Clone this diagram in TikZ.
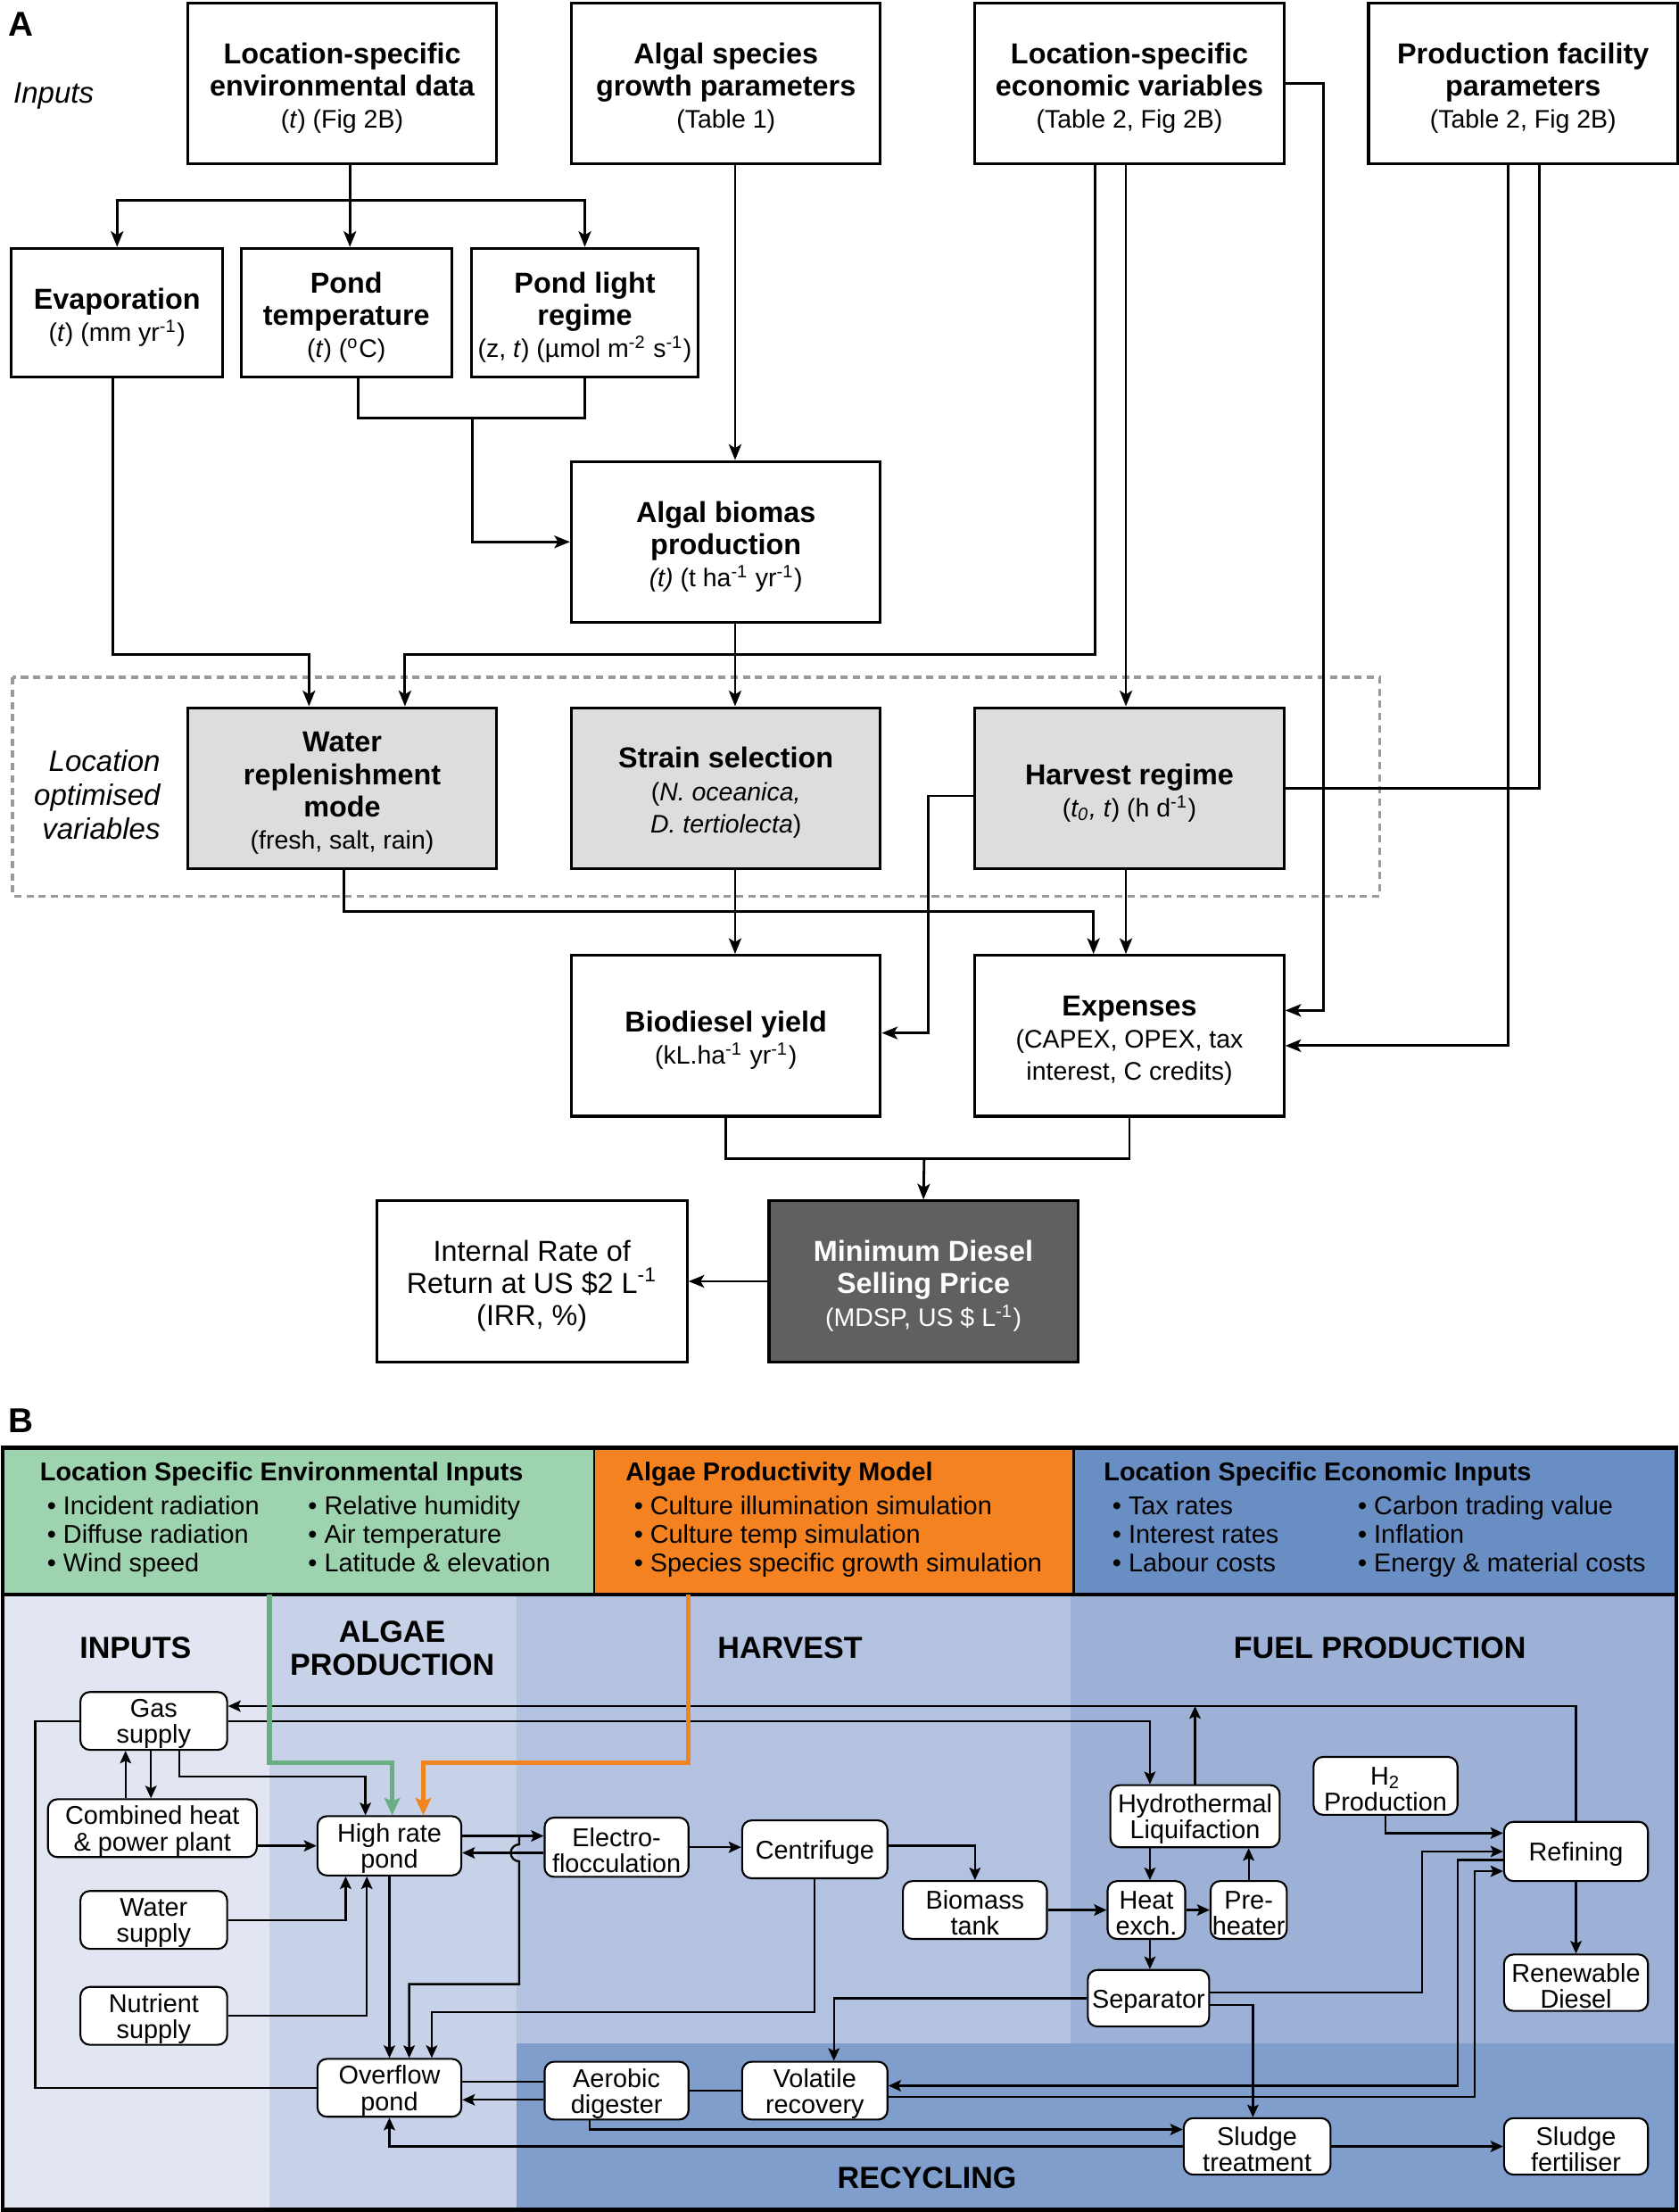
\documentclass[tikz,border=0pt]{standalone}
\usepackage{fontspec}
\setmainfont{Liberation Sans}
\usepackage{tikz}
\usetikzlibrary{arrows.meta}

\definecolor{boxgray}{HTML}{DCDDDF}
\definecolor{darkbox}{HTML}{5F6062}
\definecolor{dashgray}{HTML}{9A9A9A}
\definecolor{envgreen}{HTML}{9DD3AE}
\definecolor{modelorange}{HTML}{F58220}
\definecolor{econblue}{HTML}{688EC4}
\definecolor{zinputs}{HTML}{E1E6F2}
\definecolor{zalgae}{HTML}{C7D2E8}
\definecolor{zharvest}{HTML}{B2C2E0}
\definecolor{zfuel}{HTML}{9DB1D6}
\definecolor{zrecyc}{HTML}{809ECB}
\definecolor{feedgreen}{HTML}{6AAF84}
\definecolor{feedorange}{HTML}{F08421}

\newcommand{\pxu}{0.015815cm}
\newcommand{\boxstrut}{\rule{0pt}{9.6pt}} % 首行撑高, 文字略下移
\newcommand{\unitstrut}{\rule{0pt}{7.8pt}}
\newcommand{\hd}[1]{{\fontsize{9.2}{10.3}\selectfont\bfseries #1}}
\newcommand{\itm}{\textbullet\ }

\begin{document}
\begin{tikzpicture}[
    x=\pxu, y=-\pxu, % 以参考图像素为单位, y 向下
    abox/.style={draw, line width=0.9pt, align=center, inner sep=0pt,
        minimum width=219*\pxu, minimum height=114*\pxu,
        font=\fontsize{8.1}{10.3}\selectfont}, % A 图方框
    optbox/.style={abox, fill=boxgray}, % 位置优化变量
    aline/.style={line width=0.8pt},
    aarr/.style={aline, -{Stealth[length=5pt, width=4pt, inset=1.2pt]}},
    pbox/.style={draw, line width=0.6pt, rounded corners=3pt, fill=white,
        align=center, inner sep=0pt, minimum width=102*\pxu, minimum height=41*\pxu,
        font=\fontsize{8.2}{8.3}\selectfont}, % B 图工艺方框
    bline/.style={line width=0.65pt},
    barr/.style={bline, -{Stealth[length=4pt, width=3.6pt, inset=0.8pt]}},
    feed/.style={line width=1.5pt, -{Stealth[length=5.5pt, width=5pt, inset=1pt]}},
    zone/.style={font=\fontsize{9.7}{10.3}\selectfont\bfseries, align=center},
    band/.style={font=\fontsize{8.2}{9}\selectfont, align=left, inner sep=0pt, anchor=base west},
    bandtitle/.style={band, font=\fontsize{8.2}{9}\selectfont\bfseries},
    note/.style={font=\fontsize{9.4}{10.8}\selectfont\itshape, inner sep=0pt}
]
\useasboundingbox (0,0) rectangle (1190,1567.5);

% ---------------- A 图 ----------------
\node[font=\fontsize{11}{11}\selectfont\bfseries] (labA) at (15,17) {A};
\node[note] (inputs) at (38,68) {Inputs};

\node[abox] (env) at (242.5,59) {\boxstrut\hd{Location-specific}\\\hd{environmental data}\\(\textit{t}) (Fig 2B)};
\node[abox] (species) at (514.5,59) {\boxstrut\hd{Algal species}\\\hd{growth parameters}\\(Table 1)};
\node[abox] (econ) at (800.5,59) {\boxstrut\hd{Location-specific}\\\hd{economic variables}\\(Table 2, Fig 2B)};
\node[abox] (facility) at (1079.5,59) {\boxstrut\hd{Production facility}\\\hd{parameters}\\(Table 2, Fig 2B)};

\node[abox, minimum width=150*\pxu, minimum height=91*\pxu] (evap) at (83,221.5) {\boxstrut\hd{Evaporation}\\(\textit{t}) (mm yr\textsuperscript{-1})};
\node[abox, minimum width=149*\pxu, minimum height=91*\pxu] (ptemp) at (245.5,221.5) {\boxstrut\hd{Pond}\\\hd{temperature}\\(\textit{t}) (\textsuperscript{o}C)};
\node[abox, minimum width=161*\pxu, minimum height=91*\pxu] (plight) at (414.5,221.5) {\boxstrut\hd{Pond light}\\\hd{regime}\\(z, \textit{t}) (µmol m\textsuperscript{-2} s\textsuperscript{-1})};

\node[abox] (biomas) at (514.5,384) {\boxstrut\hd{Algal biomas}\\\hd{production}\\\textit{(t)} (t ha\textsuperscript{-1} yr\textsuperscript{-1})};

\draw[dashgray, line width=1pt, dash pattern=on 2.3pt off 1.6pt] (9,480) rectangle (978,635); % 虚线框
\node[note, align=right, anchor=east] (optlab) at (114,563) {Location\\optimised\\variables};

\node[optbox] (water) at (242.5,558.5) {\boxstrut\hd{Water}\\\hd{replenishment}\\\hd{mode}\\(fresh, salt, rain)};
\node[optbox] (strain) at (514.5,558.5) {\boxstrut\hd{Strain selection}\\(\textit{N. oceanica,}\\\textit{D. tertiolecta})};
\node[optbox] (harvest) at (800.5,558.5) {\boxstrut\hd{Harvest regime}\\(\textit{t\textsubscript{0}, t}) (h d\textsuperscript{-1})};

\node[abox] (yield) at (514.5,734) {\boxstrut\hd{Biodiesel yield}\\(kL.ha\textsuperscript{-1} yr\textsuperscript{-1})};
\node[abox] (expenses) at (800.5,734) {\boxstrut\hd{Expenses}\\(CAPEX, OPEX, tax\\interest, C credits)};
\node[abox, fill=darkbox, text=white] (mdsp) at (654.5,908) {\boxstrut\hd{Minimum Diesel}\\\hd{Selling Price}\\(MDSP, US \$ L\textsuperscript{-1})};
\node[abox, minimum width=220*\pxu, font=\fontsize{9.2}{10.3}\selectfont] (irr) at (377,908) {\boxstrut Internal Rate of\\Return at US \$2 L\textsuperscript{-1}\\(IRR, \%)};

% 连线用的拐点
\coordinate (lc) at (521,0);
\coordinate (split) at (248,142);
\coordinate (pt) at (254,0);
\coordinate (join) at (335,296);
\coordinate (ev) at (80,464);
\coordinate (wa) at (219,0);
\coordinate (e1) at (776,464);
\coordinate (wb) at (287,0);
\coordinate (e2) at (798,0);
\coordinate (ex1) at (938,716);
\coordinate (ex2) at (1069,741);
\coordinate (f2) at (1091,0);
\coordinate (wm) at (244,646);
\coordinate (xm) at (775,0);
\coordinate (hv1) at (658,564);
\coordinate (hv2) at (658,732);
\coordinate (mj) at (655,821);

\draw[aline] (env.south -| split) -- (split);
\draw[aarr] (split) -| (evap.north);
\draw[aarr] (split) -- (split |- ptemp.north);
\draw[aarr] (split) -| (plight.north);
\draw[aline] (ptemp.south -| pt) |- (plight.south |- join) -- (plight.south);
\draw[aarr] (join) |- (biomas.west);
\draw[aarr] (species.south -| lc) -- (biomas.north -| lc);
\draw[aarr] (evap.south -| ev) -- (ev) -| (water.north -| wa);
\draw[aarr] (econ.south -| e1) -- (e1) -| (water.north -| wb);
\draw[aarr] (econ.south -| e2) -- (harvest.north -| e2);
\draw[aarr] (econ.east) -| (ex1) -- (expenses.east |- ex1);
\draw[aarr] (facility.south -| ex2) -- (ex2) -- (expenses.east |- ex2);
\draw[aline] (facility.south -| f2) |- (harvest.east);
\draw[aarr] (biomas.south -| lc) -- (strain.north -| lc);
\draw[aarr] (strain.south -| lc) -- (yield.north -| lc);
\draw[aarr] (water.south -| wm) -- (wm) -| (expenses.north -| xm);
\draw[aarr] (harvest.south -| e2) -- (expenses.north -| e2);
\draw[aarr] (harvest.west |- hv1) -- (hv1) -- (hv2) -- (yield.east |- hv2);
\draw[aline] (yield.south) |- (mj) -| (expenses.south);
\draw[aarr] (mj) -- (mdsp.north);
\draw[aarr] (mdsp.west) -- (irr.east);

% ---------------- B 图 ----------------
\node[font=\fontsize{11}{11}\selectfont\bfseries] (labB) at (15,1007) {B};

% 背景色块
\foreach \c/\p/\q in {zinputs/{2,1130}/{191,1566}, zalgae/{191,1130}/{366,1566},
    zharvest/{366,1130}/{759,1448}, zfuel/{759,1130}/{1188,1448},
    zrecyc/{366,1448}/{1188,1566}, envgreen/{2,1026}/{421,1130},
    modelorange/{421,1026}/{761,1130}, econblue/{761,1026}/{1188,1130}}
    \fill[\c] (\p) rectangle (\q);
\draw[line width=0.7pt] (421,1026) -- (421,1130) (761,1026) -- (761,1130);
\draw[line width=1pt] (2,1130) -- (1188,1130);
\draw[line width=1.3pt] (2,1026) rectangle (1188,1566);

% 顶部输入说明 (列表以末行基线定位)
\node[bandtitle] (envtitle) at (28,1049.5) {Location Specific Environmental Inputs};
\node[band] (envlistA) at (33,1113.5) {\itm Incident radiation\\\itm Diffuse radiation\\\itm Wind speed};
\node[band] (envlistB) at (218,1113.5) {\itm Relative humidity\\\itm Air temperature\\\itm Latitude \& elevation};
\node[bandtitle] (modtitle) at (443,1049.5) {Algae Productivity Model};
\node[band] (modlist) at (449,1113.5) {\itm Culture illumination simulation\\\itm Culture temp simulation\\\itm Species specific growth simulation};
\node[bandtitle] (ecotitle) at (782,1049.5) {Location Specific Economic Inputs};
\node[band] (ecolistA) at (788,1113.5) {\itm Tax rates\\\itm Interest rates\\\itm Labour costs};
\node[band] (ecolistB) at (962,1113.5) {\itm Carbon trading value\\\itm Inflation\\\itm Energy \& material costs};

% 区域标题
\node[zone] (zin) at (96,1168) {INPUTS};
\node[zone] (zal) at (278,1168) {ALGAE\\PRODUCTION};
\node[zone] (zha) at (560,1168) {HARVEST};
\node[zone] (zfu) at (978,1168) {FUEL PRODUCTION};
\node[zone] (zre) at (657,1543) {RECYCLING};

% 工艺单元
\node[pbox, minimum width=104*\pxu] (gas) at (109,1219.5) {\unitstrut Gas\\supply};
\node[pbox, minimum width=148*\pxu] (chp) at (108,1295.5) {\unitstrut Combined heat\\\& power plant};
\node[pbox, minimum width=104*\pxu] (wsup) at (109,1360.5) {\unitstrut Water\\supply};
\node[pbox, minimum width=104*\pxu] (nsup) at (109,1428.5) {\unitstrut Nutrient\\supply};
\node[pbox, minimum height=42*\pxu] (hrp) at (276,1308) {\unitstrut High rate\\pond};
\node[pbox] (over) at (276,1479.5) {\unitstrut Overflow\\pond};
\node[pbox, minimum height=42*\pxu] (elec) at (437,1309) {\unitstrut Electro-\\flocculation};
\node[pbox, minimum width=103*\pxu] (cent) at (577.5,1310.5) {\unitstrut Centrifuge};
\node[pbox] (tank) at (691,1353.5) {\unitstrut Biomass\\tank};
\node[pbox, minimum width=120*\pxu, minimum height=44*\pxu] (htl) at (847,1287) {\unitstrut Hydrothermal\\Liquifaction};
\node[pbox, minimum width=55*\pxu] (hx) at (812.5,1353.5) {\unitstrut Heat\\exch.};
\node[pbox, minimum width=54*\pxu] (pre) at (885,1353.5) {\unitstrut Pre-\\heater};
\node[pbox, minimum width=86*\pxu, minimum height=40*\pxu] (sep) at (814,1416) {\unitstrut Separator};
\node[pbox] (h2) at (982,1265.5) {\unitstrut H\textsubscript{2}\\Production};
\node[pbox, minimum height=42*\pxu] (refin) at (1117,1312) {\unitstrut Refining};
\node[pbox, minimum height=40*\pxu] (diesel) at (1117,1405) {\unitstrut Renewable\\Diesel};
\node[pbox] (aer) at (437,1481.5) {\unitstrut Aerobic\\digester};
\node[pbox, minimum width=103*\pxu] (vol) at (577.5,1481.5) {\unitstrut Volatile\\recovery};
\node[pbox, minimum width=104*\pxu, minimum height=40*\pxu] (sludge) at (891,1521) {\unitstrut Sludge\\treatment};
\node[pbox, minimum height=40*\pxu] (fert) at (1117,1521) {\unitstrut Sludge\\fertiliser};

% 连线用的拐点
\coordinate (ytop) at (0,1209);
\coordinate (xl) at (25,0);
\coordinate (xa) at (815,0);
\coordinate (g1) at (89,0);
\coordinate (g2) at (107,0);
\coordinate (gb) at (127,1259);
\coordinate (h1) at (259,0);
\coordinate (gsrc) at (191,1130);
\coordinate (gk) at (191,1249);
\coordinate (hg) at (278,0);
\coordinate (osrc) at (488,1130);
\coordinate (ok) at (488,1249);
\coordinate (ho) at (300,0);
\coordinate (h3) at (245,0);
\coordinate (h4) at (260,0);
\coordinate (yf1) at (0,1301);
\coordinate (yf2) at (0,1313);
\coordinate (hop1) at (368,1301);
\coordinate (hop2) at (368,1406);
\coordinate (ovb) at (290,0);
\coordinate (cb) at (306,1426);
\coordinate (yc) at (0,1308);
\coordinate (r1) at (0,1299);
\coordinate (sr) at (1008,1412);
\coordinate (sr2) at (1008,1312);
\coordinate (rv1) at (1033,1318);
\coordinate (rv2) at (1033,1478);
\coordinate (vr1) at (1045,1486);
\coordinate (vr2) at (1045,1326);
\coordinate (sv) at (591,0);
\coordinate (ss) at (888,1421);
\coordinate (oa1) at (0,1475);
\coordinate (oa2) at (0,1488);
\coordinate (as) at (418,1509);

% 回流与燃料线路
\draw[barr] (refin.north) |- (gas.east |- ytop);
\draw[barr] (htl.north) -- (htl.north |- ytop);
\draw[bline] (over.west) -| (xl |- gas.west) -- (gas.west);
\draw[barr] (gas.east) -| (htl.north -| xa);
\draw[barr] (chp.north -| g1) -- (gas.south -| g1);
\draw[barr] (gas.south -| g2) -- (chp.north -| g2);
\draw[barr] (gas.south -| gb) -- (gb) -| (hrp.north -| h1);
\draw[feed, feedgreen] (gsrc) -- (gk) -| (hrp.north -| hg);
\draw[feed, feedorange] (osrc) -- (ok) -| (hrp.north -| ho);
\draw[barr] (chp.east |- hrp.west) -- (hrp.west);
\draw[barr] (wsup.east) -| (hrp.south -| h3);
\draw[barr] (nsup.east) -| (hrp.south -| h4);
\draw[barr] (hrp.south) -- (over.north);
\draw[barr] (hrp.east |- yf1) -- (elec.west |- yf1);
\draw[barr] (elec.west |- yf2) -- (hrp.east |- yf2);
\draw[barr] (hop1) -- ++(0,6) arc[start angle=90, end angle=270, radius=0.095cm] -- (hop2) -| (over.north -| ovb); % 跨线
\draw[barr] (cent.south) |- (cb) -- (over.north -| cb);
\draw[barr] (elec.east) -- (cent.west |- elec.east);
\draw[barr] (cent.east |- yc) -| (tank.north);
\draw[barr] (tank.east) -- (hx.west);
\draw[barr] (htl.south -| xa) -- (hx.north -| xa);
\draw[barr] (hx.east) -- (pre.west);
\draw[barr] (pre.north) -- (htl.south -| pre.north);
\draw[barr] (hx.south -| xa) -- (sep.north -| xa);
\draw[barr] (h2.south) |- (refin.west |- r1);
\draw[barr] (sep.east |- sr) -- (sr) -- (sr2) -- (refin.west |- sr2);
\draw[barr] (refin.west |- rv1) -- (rv1) -- (rv2) -- (vol.east |- rv2);
\draw[barr] (vol.east |- vr1) -- (vr1) -- (vr2) -- (refin.west |- vr2);
\draw[barr] (refin.south) -- (diesel.north);
\draw[barr] (sep.west) -| (vol.north -| sv);
\draw[barr] (sep.east |- ss) -| (sludge.north -| ss);
\draw[bline] (over.east |- oa1) -- (aer.west |- oa1);
\draw[barr] (aer.west |- oa2) -- (over.east |- oa2);
\draw[bline] (aer.east) -- (vol.west);
\draw[barr] (aer.south -| as) |- (sludge.west |- as);
\draw[barr] (sludge.west) -| (over.south);
\draw[barr] (sludge.east) -- (fert.west);
\end{tikzpicture}
\end{document}
